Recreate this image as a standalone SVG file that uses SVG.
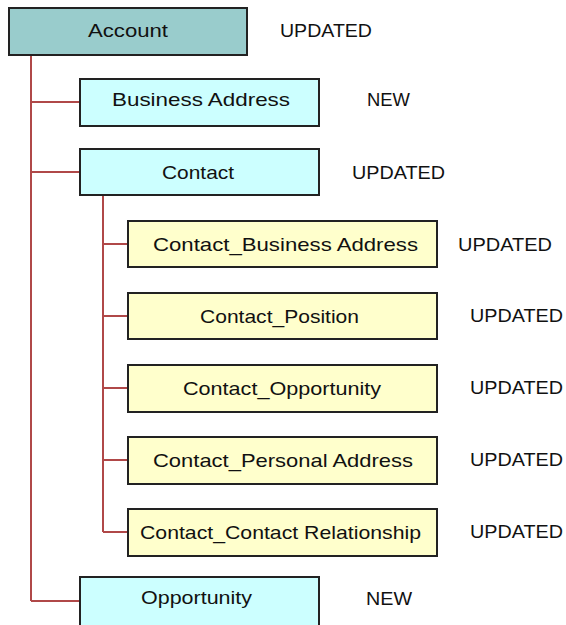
<svg xmlns="http://www.w3.org/2000/svg" width="566" height="625" viewBox="0 0 566 625">
<style>
text{font-family:"Liberation Sans",Arial,sans-serif;font-size:19px;fill:#111}
.box{stroke:#222;stroke-width:2}
.root{fill:#99CCCC}
.blue{fill:#CCFFFF}
.yel{fill:#FFFFCC}
.conn{fill:none;stroke:#B04848;stroke-width:2}
</style>
<rect width="566" height="625" fill="#fff"/>
<g id="connectors">
<path class="conn" d="M31,56 V601 M31,102 H79 M31,172 H79 M31,601 H79"/>
<path class="conn" d="M103,196 V532 M103,244 H127 M103,316 H127 M103,388 H127 M103,460 H127 M103,532 H127"/>
</g>
<g id="account"><rect class="box root" x="9" y="8" width="238" height="47"/><text x="88" y="37" textLength="80" lengthAdjust="spacingAndGlyphs">Account</text></g>
<g id="account-status"><text x="280" y="37" textLength="92" lengthAdjust="spacingAndGlyphs">UPDATED</text></g>
<g id="business-address"><rect class="box blue" x="80" y="79" width="239" height="47"/><text x="112" y="106" textLength="178" lengthAdjust="spacingAndGlyphs">Business Address</text></g>
<g id="business-address-status"><text x="367" y="106" textLength="43" lengthAdjust="spacingAndGlyphs">NEW</text></g>
<g id="contact"><rect class="box blue" x="80" y="149" width="239" height="46"/><text x="162" y="179" textLength="72" lengthAdjust="spacingAndGlyphs">Contact</text></g>
<g id="contact-status"><text x="352" y="179" textLength="93" lengthAdjust="spacingAndGlyphs">UPDATED</text></g>
<g id="contact-business-address"><rect class="box yel" x="128" y="221" width="309" height="46"/><text x="153" y="251" textLength="265" lengthAdjust="spacingAndGlyphs">Contact_Business Address</text></g>
<g id="contact-business-address-status"><text x="458" y="251" textLength="94" lengthAdjust="spacingAndGlyphs">UPDATED</text></g>
<g id="contact-position"><rect class="box yel" x="128" y="293" width="309" height="46"/><text x="200" y="323" textLength="159" lengthAdjust="spacingAndGlyphs">Contact_Position</text></g>
<g id="contact-position-status"><text x="470" y="322" textLength="93" lengthAdjust="spacingAndGlyphs">UPDATED</text></g>
<g id="contact-opportunity"><rect class="box yel" x="128" y="365" width="309" height="47"/><text x="183" y="395" textLength="198" lengthAdjust="spacingAndGlyphs">Contact_Opportunity</text></g>
<g id="contact-opportunity-status"><text x="470" y="394" textLength="93" lengthAdjust="spacingAndGlyphs">UPDATED</text></g>
<g id="contact-personal-address"><rect class="box yel" x="128" y="437" width="309" height="47"/><text x="153" y="467" textLength="260" lengthAdjust="spacingAndGlyphs">Contact_Personal Address</text></g>
<g id="contact-personal-address-status"><text x="470" y="466" textLength="93" lengthAdjust="spacingAndGlyphs">UPDATED</text></g>
<g id="contact-contact-relationship"><rect class="box yel" x="128" y="509" width="309" height="47"/><text x="140" y="539" textLength="281" lengthAdjust="spacingAndGlyphs">Contact_Contact Relationship</text></g>
<g id="contact-contact-relationship-status"><text x="470" y="538" textLength="93" lengthAdjust="spacingAndGlyphs">UPDATED</text></g>
<g id="opportunity"><rect class="box blue" x="80" y="577" width="239" height="50"/><text x="141" y="604" textLength="111" lengthAdjust="spacingAndGlyphs">Opportunity</text></g>
<g id="opportunity-status"><text x="366" y="605" textLength="46" lengthAdjust="spacingAndGlyphs">NEW</text></g>
</svg>
